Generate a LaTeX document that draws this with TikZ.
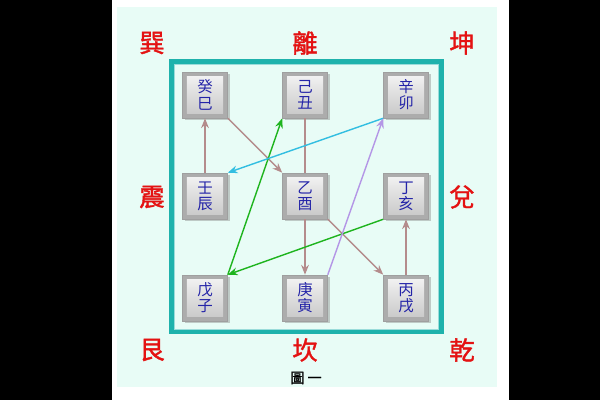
\documentclass[tikz,border=0pt]{standalone}
\usepackage{fontspec}
\newfontfamily\cjk{Noto Sans CJK TC}
\newfontfamily\cjkbf{Noto Sans CJK TC}[FakeBold=1.5]
\usetikzlibrary{shadows,arrows.meta}
\definecolor{panel}{RGB}{232,252,246}
\definecolor{frame}{RGB}{30,178,172}
\definecolor{gua}{RGB}{228,18,18}
\definecolor{ganzhi}{RGB}{36,36,168}
\definecolor{flow}{RGB}{180,140,140}
\definecolor{lvxian}{RGB}{30,180,30}
\definecolor{lanxian}{RGB}{50,190,225}
\definecolor{zixian}{RGB}{180,150,230}

\begin{document}
\begin{tikzpicture}[>={Stealth[length=7pt,width=5.5pt]},
    gz/.style={minimum width=1.125cm,minimum height=1.15cm,inner sep=0pt,fill=gray!65,draw=gray!75,
      drop shadow={shadow xshift=1.5pt,shadow yshift=-1.5pt,opacity=0.4},
      path picture={\shade[top color=gray!8,bottom color=gray!45]
        ([shift={(3.2pt,3.2pt)}]path picture bounding box.south west) rectangle
        ([shift={(-3.2pt,-3.2pt)}]path picture bounding box.north east);},
      text=ganzhi,font=\cjk\fontsize{11}{11.5}\selectfont,align=center},
    gua/.style={text=gua,font=\cjkbf\fontsize{18}{18}\selectfont},
    xian/.style={line width=1pt}]
    \useasboundingbox(0,0)rectangle(15,10);
    \fill[black](0,0)rectangle(15,10);
    \fill[white](2.8,0)rectangle(12.725,10);
    \fill[panel](2.925,0.325)rectangle(12.425,9.825);
    \draw[frame,line width=3pt](4.29,1.69)rectangle(11.04,8.46);
    \draw[frame!45,line width=0.7pt](4.36,1.76)rectangle(10.97,8.39);
    % 八卦
    \node[gua](xun) at(3.8,8.925){巽};
    \node[gua](li)  at(7.625,8.925){離};
    \node[gua](kun) at(11.55,8.925){坤};
    \node[gua](zhen)at(3.8,5.075){震};
    \node[gua](dui) at(11.55,5.075){兌};
    \node[gua](gen) at(3.8,1.25){艮};
    \node[gua](kan) at(7.625,1.25){坎};
    \node[gua](qian)at(11.55,1.25){乾};
    % 干支
    \node[gz](guisi)  at(5.125,7.625){癸\\巳};
    \node[gz](jichou) at(7.625,7.625){己\\丑};
    \node[gz](xinmao) at(10.15,7.625){辛\\卯};
    \node[gz](renchen)at(5.125,5.1){壬\\辰};
    \node[gz](yiyou)  at(7.625,5.1){乙\\酉};
    \node[gz](dinghai)at(10.15,5.1){丁\\亥};
    \node[gz](wuzi)   at(5.125,2.55){戊\\子};
    \node[gz](gengyin)at(7.625,2.55){庚\\寅};
    \node[gz](bingxu) at(10.15,2.55){丙\\戌};
    \draw[xian,flow,->](renchen.north)--(guisi.south);
    \draw[xian,flow,->](guisi.south east)--(yiyou.north west);
    \draw[xian,flow](jichou.south)--(yiyou.north);
    \draw[xian,flow,->](yiyou.south)--(gengyin.north);
    \draw[xian,flow,->](yiyou.south east)--(bingxu.north west);
    \draw[xian,flow,->](bingxu.north)--(dinghai.south);
    \draw[xian,lvxian,->](dinghai.south west)--(wuzi.north east);
    \draw[xian,lvxian,->](wuzi.north east)--(jichou.south west);
    \draw[xian,lanxian,->](xinmao.south west)--(renchen.north east);
    \draw[xian,zixian,->](gengyin.north east)--(xinmao.south west);
    \node(tu) at(7.65,0.55){\cjkbf\fontsize{10}{10}\selectfont 圖 一};
\end{tikzpicture}
\end{document}
